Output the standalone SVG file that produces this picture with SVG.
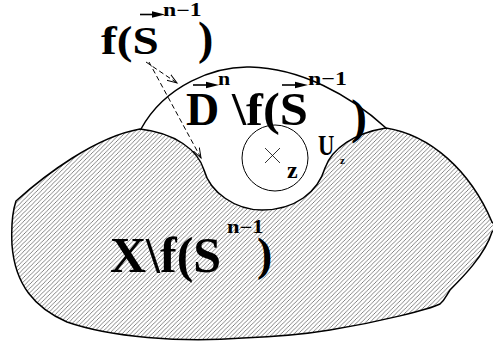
<svg xmlns="http://www.w3.org/2000/svg" width="493" height="349" viewBox="0 0 493 349">
<style>
.outline{fill:none;stroke:#000;stroke-width:1.5;stroke-linejoin:round}
text{font-family:'Liberation Serif',serif;font-weight:bold;fill:#000}
.dash{fill:none;stroke:#000;stroke-width:1;stroke-dasharray:5 3}
.vec{stroke:#000;stroke-width:1.6}
</style>
<defs>
<pattern id="hatch" patternUnits="userSpaceOnUse" width="4.3" height="4.3">
<path d="M-1,1 L1,-1 M0,4.3 L4.3,0 M3.3,5.3 L5.3,3.3" stroke="#666" stroke-width="0.8"/>
</pattern>
<marker id="openArrow" markerWidth="12" markerHeight="10" refX="10" refY="4" orient="auto" markerUnits="userSpaceOnUse">
<path d="M0,0.5 L10,4 L0,7.5" fill="none" stroke="#000" stroke-width="1"/>
</marker>
</defs>
<rect width="493" height="349" fill="#fff"/>
<g id="region-X">
<path d="M16,201 C45,175 95,137 140,129 C175,133 198,150 204,170 C210,192 235,210 262,210 C295,210 318,192 325,168 C332,148 355,133 386,128 C430,135 470,170 492,222 L497,227 L492,232 C485,255 462,278 450,290 C446,296 445,300 440,304 C430,309 380,322 330,330 C300,335 270,337 243,338 C180,343 110,337 67,322 C35,308 15,285 12,245 C11,225 13,210 16,201 Z" fill="url(#hatch)" stroke="#000" stroke-width="1.5" stroke-linejoin="round"/>
</g>
<g id="region-D">
<path class="outline" d="M141,129 C165,85 215,66 250,67 C300,68 350,95 386,128"/>
</g>
<g id="neighbourhood-Uz">
<circle cx="275" cy="158" r="33" fill="#fff" stroke="#000" stroke-width="1"/>
<path d="M265,148 L280,163 M265,163 L280,148" stroke="#000" stroke-width="0.8"/>
<text x="287" y="178" font-size="24">z</text>
<text transform="translate(318,155) scale(0.78,1)" font-size="29">U</text>
<text x="340" y="164" font-size="11">z</text>
</g>
<g id="label-fS">
<text transform="translate(101,54) scale(1.18,1)" font-size="40">f(S</text>
<text x="198" y="54" font-size="46">)</text>
<text transform="translate(163,16) scale(1.32,1)" font-size="18">n−1</text>
<line class="vec" x1="140" y1="14.5" x2="154" y2="14.5"/>
<polygon points="152,11.3 165,14.5 152,17.7" fill="#000"/>
</g>
<g id="label-Dn">
<text x="186" y="125" font-size="46">D</text>
<text transform="translate(232,125) scale(1.1,1)" font-size="46">\f(S</text>
<text x="351" y="133" font-size="48">)</text>
<line class="vec" x1="193" y1="85" x2="208" y2="85"/>
<polygon points="206,81.8 219,85 206,88.2" fill="#000"/>
<text transform="translate(218,85) scale(1.15,1)" font-size="19">n</text>
<line class="vec" x1="282" y1="85" x2="297" y2="85"/>
<polygon points="295,81.8 308,85 295,88.2" fill="#000"/>
<text transform="translate(308,85) scale(1.26,1)" font-size="19">n−1</text>
</g>
<g id="label-X">
<text x="110" y="272" font-size="50">X\f(S</text>
<text x="257" y="270" font-size="46">)</text>
<text transform="translate(227,233) scale(1.25,1)" font-size="18">n−1</text>
</g>
<g id="connectors">
<path class="dash" d="M146,62 L177,83" marker-end="url(#openArrow)"/>
<path class="dash" d="M149,62 L201,158" marker-end="url(#openArrow)"/>
</g>
</svg>
